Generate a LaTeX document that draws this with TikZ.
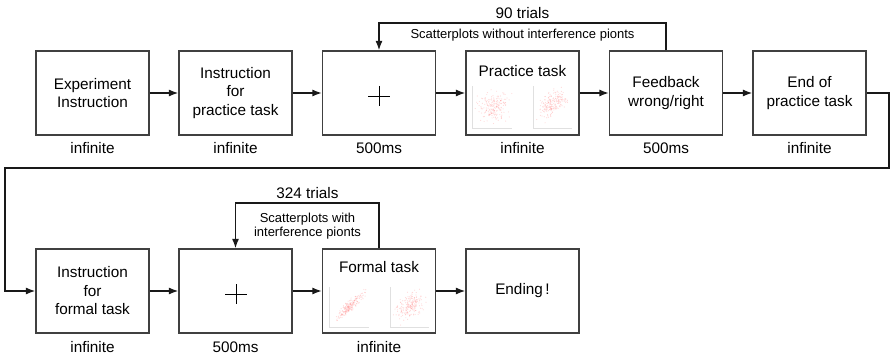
\documentclass[tikz,border=0pt]{standalone}
\usepackage{fontspec}
\setmainfont{Liberation Sans}
\usetikzlibrary{arrows.meta}
\tikzset{
  box/.style={draw=black!75, line width=1.1pt, minimum width=113pt, minimum height=84pt, inner sep=0pt, align=center, font=\fontsize{15.3}{18.5}\selectfont},
  lbl/.style={font=\fontsize{15.3}{18}\selectfont, inner sep=0pt},
  small/.style={font=\fontsize{13}{14.5}\selectfont, inner sep=0pt, align=center},
  flow/.style={draw=black!90, line width=1.6pt, -{Latex[length=9.5pt,width=7pt]}},
  axis/.style={draw=black!12, line width=0.7pt},
  dot/.style={fill=red!65, opacity=0.22}
}
\newcommand{\myscatter}[5]{% cx cy rho seed spread
  \pgfmathsetseed{#4}
  \foreach \i in {1,...,200}{
    \pgfmathsetmacro\aa{(rand+rand+rand)*#5}
    \pgfmathsetmacro\bb{(rand+rand+rand)*#5}
    \pgfmathsetmacro\yy{#3*\aa+sqrt(1-#3*#3)*\bb}
    \fill[dot] (#1+\aa,#2-\yy) circle (0.6pt);
  }
}
\begin{document}
\begin{tikzpicture}[x=1pt,y=-1pt]
\useasboundingbox (0,0) rectangle (891,355);
% row 1
\node[box] (b1) at (92.5,93) {Experiment\\Instruction};
\node[box] (b2) at (235.5,93) {Instruction\\for\\practice task};
\node[box] (b3) at (379,93) {};
\node[box] (b4) at (522.5,93) {};
\node[box] (b5) at (666,93) {Feedback\\wrong/right};
\node[box] (b6) at (809.5,93) {End of\\practice task};
\node[lbl] (l1) at (92.5,148) {infinite};
\node[lbl] (l2) at (235.5,148) {infinite};
\node[lbl] (l3) at (379,148) {500ms};
\node[lbl] (l4) at (522.5,148) {infinite};
\node[lbl] (l5) at (666,148) {500ms};
\node[lbl] (l6) at (809.5,148) {infinite};
\node[lbl] (pt) at (522.5,71) {Practice task};
% cross 1
\draw[line width=0.8pt] (368,96) -- (390,96) (379,86) -- (379,106);
% practice scatters
\draw[axis] (472,86) -- (472,128) -- (512,128);
\draw[axis] (533,86) -- (533,128) -- (572,128);
\myscatter{493}{106}{0.1}{11}{7}
\myscatter{553}{104}{0.5}{23}{6.5}
% row 2
\node[box] (c1) at (92.5,291) {Instruction\\for\\formal task};
\node[box] (c2) at (235.5,291) {};
\node[box] (c3) at (379,291) {};
\node[box] (c4) at (522.5,291) {Ending\,!};
\node[lbl] (m1) at (92.5,347) {infinite};
\node[lbl] (m2) at (235.5,347) {500ms};
\node[lbl] (m3) at (379,347) {infinite};
\node[lbl] (ft) at (379,267) {Formal task};
\draw[line width=0.8pt] (225,294) -- (247,294) (236,284) -- (236,304);
\draw[axis] (329,287) -- (329,327) -- (369,327);
\draw[axis] (390,287) -- (390,327) -- (429,327);
\myscatter{350}{306}{0.9}{37}{6.5}
\myscatter{410}{306}{0.4}{41}{6.5}
% connectors row 1
\draw[flow] (b1.east) -- (b2.west);
\draw[flow] (b2.east) -- (b3.west);
\draw[flow] (b3.east) -- (b4.west);
\draw[flow] (b4.east) -- (b5.west);
\draw[flow] (b5.east) -- (b6.west);
% loop 1
\coordinate (t1) at (666,23);
\draw[flow] (b5.north) -- (b5.north |- t1) -| (b3.north);
\node[lbl] (n90) at (522.5,13) {90 trials};
\node[small] (s1) at (522.5,35) {Scatterplots without interference pionts};
% wrap
\coordinate (w1) at (889,168);
\coordinate (w2) at (5,168);
\draw[flow] (b6.east) -| (w1) -- (w2) |- (c1.west);
% connectors row 2
\draw[flow] (c1.east) -- (c2.west);
\draw[flow] (c2.east) -- (c3.west);
\draw[flow] (c3.east) -- (c4.west);
% loop 2
\coordinate (t2) at (379,203);
\draw[flow] (c3.north) -- (c3.north |- t2) -| (c2.north);
\node[lbl] (n324) at (307.5,193) {324 trials};
\node[small] (s2) at (307.5,226) {Scatterplots with\\interference pionts};
\end{tikzpicture}
\end{document}
